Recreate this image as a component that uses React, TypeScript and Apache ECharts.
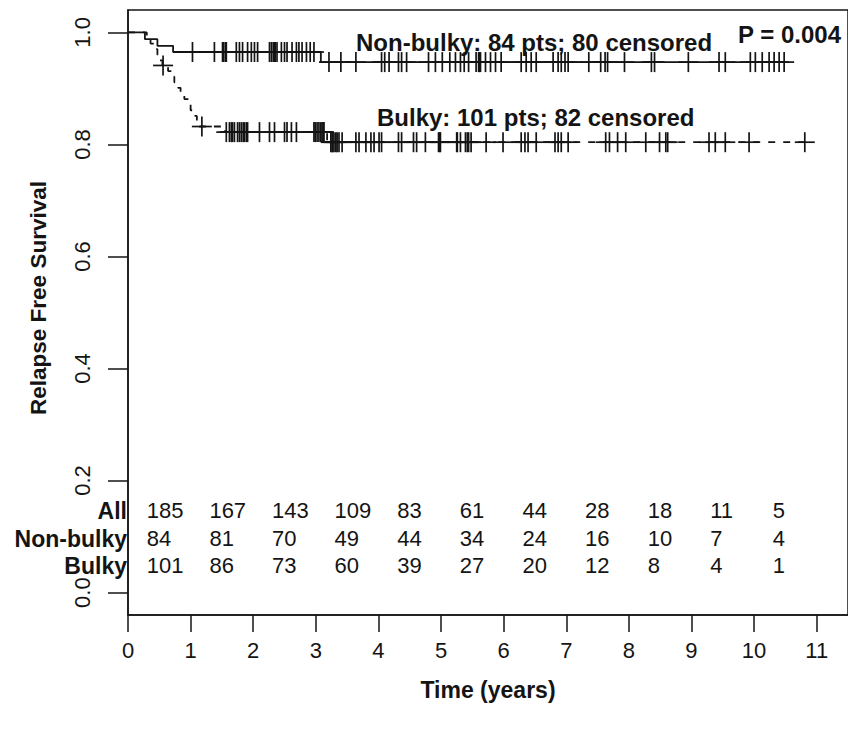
import React, { useEffect, useRef } from "react";
import * as echarts from "echarts";

// ---------- data ----------
const xTickValues = [0, 1, 2, 3, 4, 5, 6, 7, 8, 9, 10, 11];
const yTickValues = [0, 0.2, 0.4, 0.6, 0.8, 1.0];

// Kaplan-Meier step points (time, survival after the step)
const nonBulkyStepTimes = [0, 0.27, 0.47, 0.72, 3.08];
const nonBulkyStepValues = [1.0, 0.988, 0.976, 0.965, 0.947];
const nonBulkyEnd = 10.48;

const bulkyStepTimes = [0, 0.3, 0.36, 0.42, 0.47, 0.51, 0.55, 0.64, 0.7, 0.74, 0.8, 0.84, 0.9, 0.96, 1.0, 1.05, 1.1, 1.14, 1.55, 3.18];
const bulkyStepValues = [1.0, 0.99, 0.98, 0.97, 0.96, 0.95, 0.941, 0.931, 0.921, 0.911, 0.901, 0.891, 0.881, 0.871, 0.861, 0.851, 0.842, 0.832, 0.822, 0.804];
const bulkyEnd = 10.81;

// censored times
const nonBulkyCensored = [
  1.03, 1.38, 1.51, 1.53, 1.56, 1.57, 1.73, 1.78, 1.83, 1.91, 1.97, 2.02, 2.07, 2.26, 2.29, 2.32, 2.34, 2.35, 2.38,
  2.45, 2.5, 2.54, 2.62, 2.69, 2.73, 2.78, 2.85, 2.91, 2.97, 3.21, 3.4, 3.64, 4.05, 4.1, 4.17, 4.32, 4.37, 4.45, 4.8,
  4.91, 5.02, 5.14, 5.23, 5.31, 5.37, 5.44, 5.56, 5.6, 5.61, 5.63, 5.71, 5.79, 5.87, 5.96, 6.28, 6.36, 6.44, 6.52,
  6.79, 6.87, 6.92, 6.98, 7.03, 7.36, 7.55, 7.62, 7.66, 7.93, 8.36, 8.41, 8.95, 9.44, 9.54, 9.94, 10.02, 10.13, 10.24,
  10.32, 10.4, 10.48,
];
const bulkyCensored = [
  0.56, 1.18, 1.57, 1.62, 1.65, 1.67, 1.7, 1.75, 1.78, 1.81, 1.84, 1.86, 1.89, 1.91, 2.1, 2.26, 2.34, 2.5, 2.54, 2.61,
  2.69, 2.97, 2.99, 3.02, 3.05, 3.08, 3.1, 3.12, 3.13, 3.24, 3.26, 3.27, 3.29, 3.32, 3.34, 3.37, 3.42, 3.64, 3.69, 3.8,
  3.88, 3.93, 4.01, 4.05, 4.32, 4.37, 4.56, 4.61, 4.75, 4.96, 4.98, 4.99, 5.25, 5.26, 5.31, 5.39, 5.42, 5.44, 5.48,
  5.72, 5.99, 6.28, 6.34, 6.39, 6.52, 6.82, 6.87, 6.92, 7.03, 7.63, 7.69, 7.82, 7.95, 8.27, 8.49, 8.59, 8.62, 9.28,
  9.38, 9.54, 9.92, 10.81,
];

// number at risk table
const riskTimes = [0, 1, 2, 3, 4, 5, 6, 7, 8, 9, 10];
const riskAll = [185, 167, 143, 109, 83, 61, 44, 28, 18, 11, 5];
const riskNonBulky = [84, 81, 70, 49, 44, 34, 24, 16, 10, 7, 4];
const riskBulky = [101, 86, 73, 60, 39, 27, 20, 12, 8, 4, 1];
const riskRowNames = ["All", "Non-bulky", "Bulky"];

// ---------- layout / style ----------
const FONT = "'Liberation Sans', Arial, Helvetica, sans-serif";
const INK = "#141414";
const riskRowY = [0.1464, 0.0964, 0.0482];
const riskTextOffset = 0.3;
const PLUS = 10;

function valueAt(times: number[], values: number[], t: number) {
  let v = values[0];
  for (let i = 0; i < times.length; i++) {
    if (times[i] <= t) v = values[i];
  }
  return v;
}

function stepData(times: number[], values: number[], end: number) {
  const d = times.map((t, i) => [t, values[i]]);
  d.push([end, values[values.length - 1]]);
  return d;
}

function plusRender(params: any, api: any) {
  const p = api.coord([api.value(0), api.value(1)]);
  const style = { stroke: INK, lineWidth: 1.7 };
  return {
    type: "group",
    children: [
      { type: "line", shape: { x1: p[0], y1: p[1] - PLUS, x2: p[0], y2: p[1] + PLUS }, style },
      { type: "line", shape: { x1: p[0] - PLUS, y1: p[1], x2: p[0] + PLUS, y2: p[1] }, style },
    ],
  };
}

export default function App() {
  const ref = useRef<HTMLDivElement>(null);
  useEffect(() => {
    if (!ref.current) return;
    const chart = echarts.init(ref.current, null, { renderer: "svg" });

    const riskRows = [riskAll, riskNonBulky, riskBulky];
    const tableData: any[] = [];
    riskRows.forEach((row, r) => {
      row.forEach((n, i) => tableData.push([riskTimes[i] + riskTextOffset, riskRowY[r], n]));
    });
    const rowLabelData = riskRowNames.map((_, r) => [0, riskRowY[r], r]);

    const option: any = {
      animation: false,
      backgroundColor: "#ffffff",
      grid: {
        left: 128,
        right: -3,
        top: 10,
        bottom: 115,
        show: true,
        borderColor: INK,
        borderWidth: 1.5,
        containLabel: false,
      },
      xAxis: {
        type: "value",
        min: 0,
        max: 11.5,
        interval: 1,
        name: "Time (years)",
        nameLocation: "middle",
        nameGap: 63,
        nameTextStyle: { fontFamily: FONT, fontSize: 23, fontWeight: "bold", color: INK },
        axisLine: { show: true, onZero: false, lineStyle: { color: INK, width: 1.5 } },
        axisTick: { show: true, length: 17, inside: false, lineStyle: { color: INK, width: 1.5 }, customValues: xTickValues },
        axisLabel: { show: true, margin: 24, fontFamily: FONT, fontSize: 22, color: INK, customValues: xTickValues },
        splitLine: { show: false },
      },
      yAxis: {
        type: "value",
        min: -0.04,
        max: 1.04,
        axisLine: { show: true, onZero: false, lineStyle: { color: INK, width: 1.5 } },
        axisTick: { show: true, length: 20, lineStyle: { color: INK, width: 1.5 }, customValues: yTickValues },
        axisLabel: {
          show: true,
          rotate: 90,
          margin: 35,
          fontFamily: FONT,
          fontSize: 22,
          color: INK,
          customValues: yTickValues,
          formatter: (v: number) => v.toFixed(1),
        },
        splitLine: { show: false },
      },
      graphic: [
        {
          type: "text",
          x: 38,
          y: 298,
          rotation: Math.PI / 2,
          style: { text: "Relapse Free Survival", font: `bold 22.5px ${FONT}`, fill: INK, verticalAlign: "middle", align: "center" },
        },
        {
          type: "text",
          x: 356,
          y: 42,
          style: { text: "Non-bulky: 84 pts; 80 censored", font: `bold 24px ${FONT}`, fill: INK, verticalAlign: "middle", align: "left" },
        },
        {
          type: "text",
          x: 377,
          y: 117,
          style: { text: "Bulky: 101 pts; 82 censored", font: `bold 24px ${FONT}`, fill: INK, verticalAlign: "middle", align: "left" },
        },
        {
          type: "text",
          x: 841,
          y: 34,
          style: { text: "P = 0.004", font: `bold 24px ${FONT}`, fill: INK, verticalAlign: "middle", align: "right" },
        },
      ],
      series: [
        {
          name: "Non-bulky",
          type: "line",
          step: "end",
          showSymbol: false,
          symbol: "none",
          data: stepData(nonBulkyStepTimes, nonBulkyStepValues, nonBulkyEnd),
          lineStyle: { color: INK, width: 1.8, type: "solid" },
          z: 3,
        },
        {
          name: "Bulky",
          type: "line",
          step: "end",
          showSymbol: false,
          symbol: "none",
          data: stepData(bulkyStepTimes, bulkyStepValues, bulkyEnd),
          lineStyle: { color: INK, width: 1.8, type: [7, 8] },
          z: 3,
        },
        {
          name: "Non-bulky censored",
          type: "custom",
          renderItem: plusRender,
          data: nonBulkyCensored.map((t) => [t, valueAt(nonBulkyStepTimes, nonBulkyStepValues, t)]),
          z: 4,
        },
        {
          name: "Bulky censored",
          type: "custom",
          renderItem: plusRender,
          data: bulkyCensored.map((t) => [t, valueAt(bulkyStepTimes, bulkyStepValues, t)]),
          z: 4,
        },
        {
          name: "At risk",
          type: "custom",
          data: tableData,
          renderItem: (params: any, api: any) => {
            const p = api.coord([api.value(0), api.value(1)]);
            return {
              type: "text",
              x: p[0],
              y: p[1],
              style: { text: String(api.value(2)), font: `22px ${FONT}`, fill: INK, align: "left", verticalAlign: "middle" },
            };
          },
          z: 5,
        },
        {
          name: "At risk labels",
          type: "custom",
          data: rowLabelData,
          renderItem: (params: any, api: any) => {
            const p = api.coord([api.value(0), api.value(1)]);
            return {
              type: "text",
              x: p[0] - 1,
              y: p[1],
              style: { text: riskRowNames[api.value(2)], font: `bold 23px ${FONT}`, fill: INK, align: "right", verticalAlign: "middle" },
            };
          },
          clip: false,
          z: 5,
        },
      ],
    };

    chart.setOption(option);
    return () => chart.dispose();
  }, []);
  return <div ref={ref} style={{ position: "fixed", left: 0, top: 0, width: 848, height: 730 }} />;
}
